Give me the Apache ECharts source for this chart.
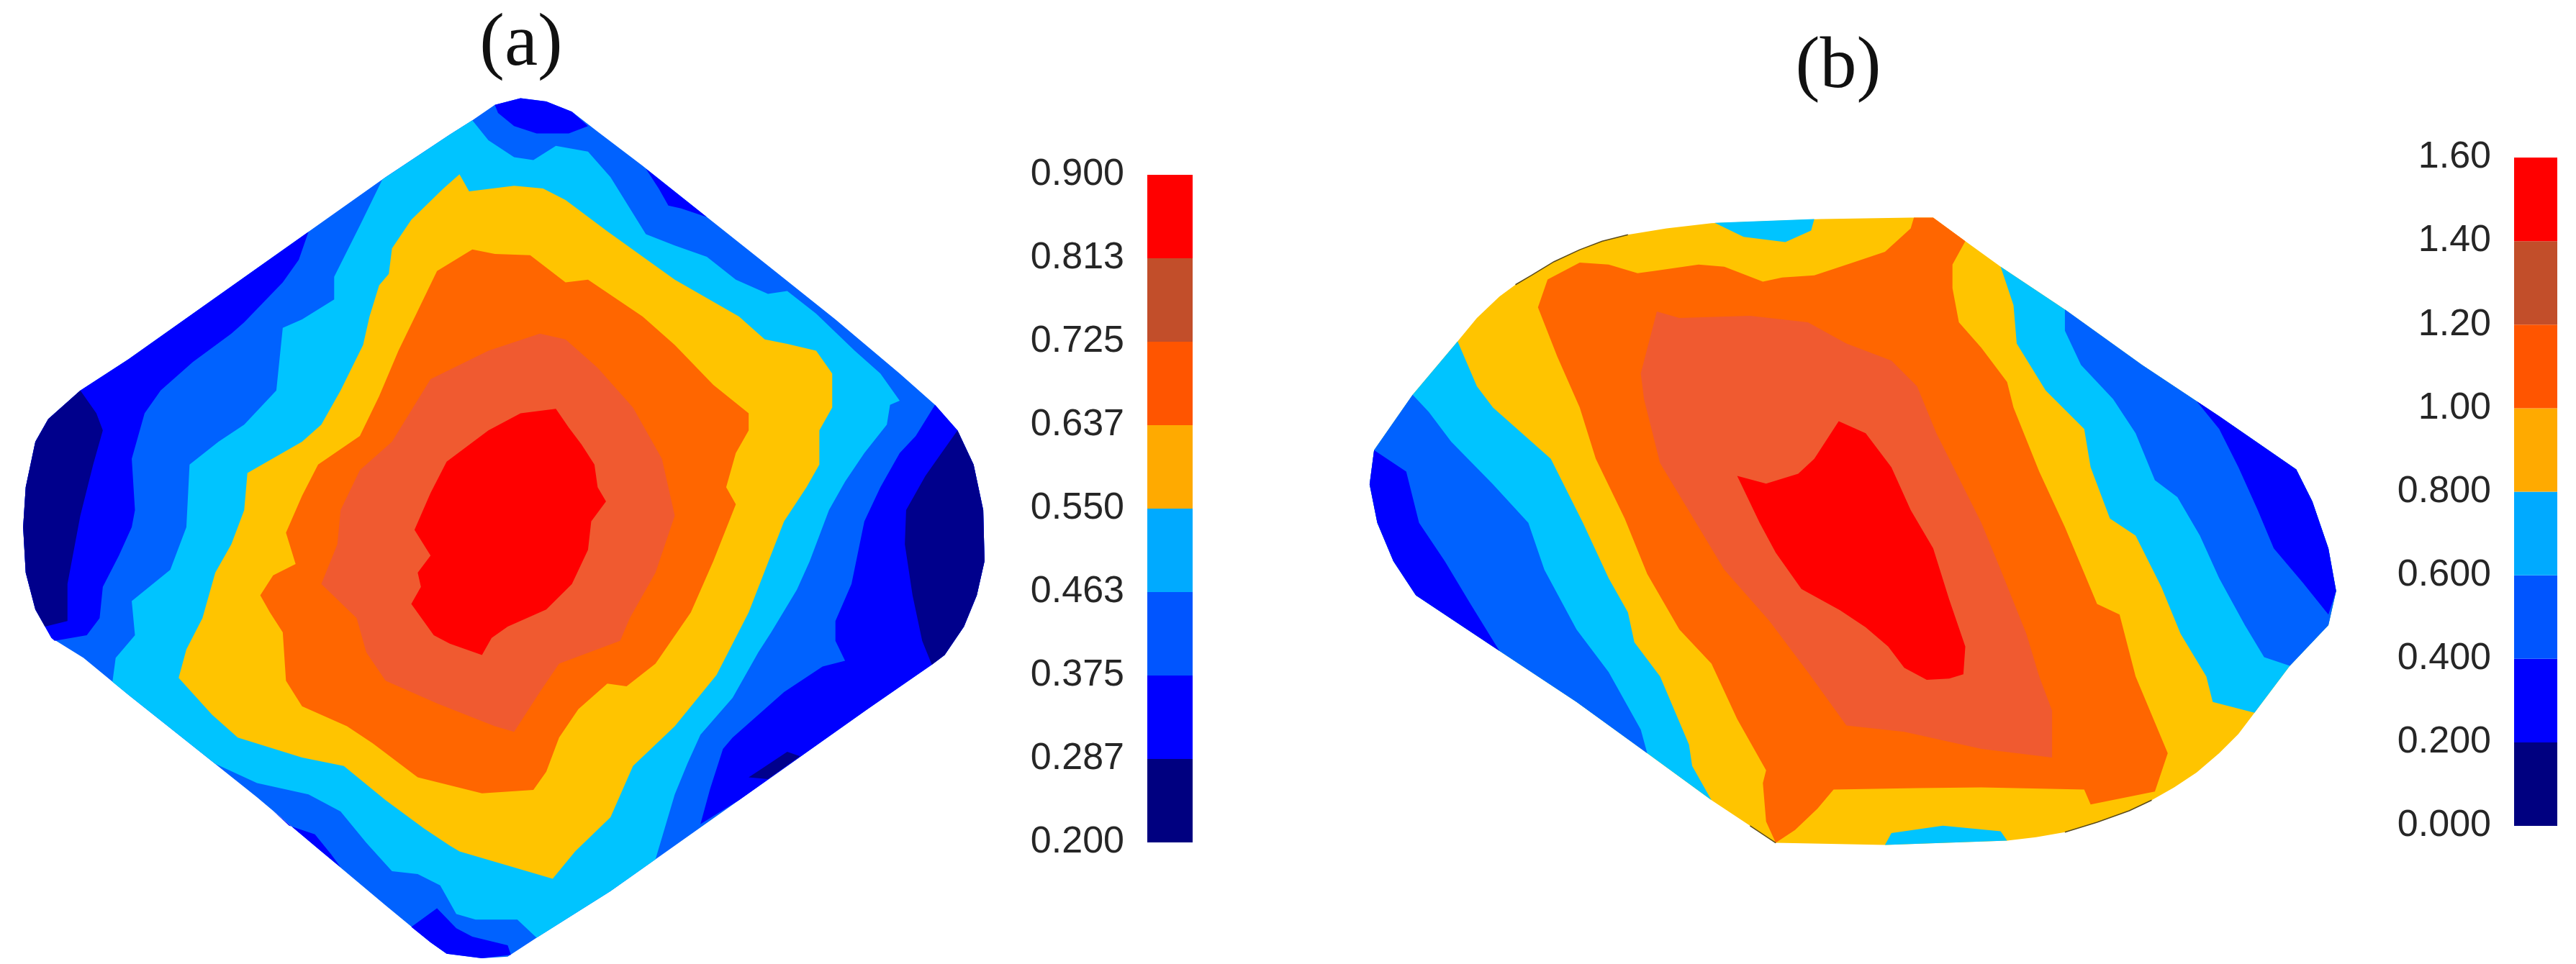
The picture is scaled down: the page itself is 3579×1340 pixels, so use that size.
<!DOCTYPE html>
<html><head><meta charset="utf-8">
<script src="https://cdn.jsdelivr.net/npm/echarts@6/dist/echarts.min.js"></script>
<style>html,body{margin:0;background:#fff}#c{width:3579px;height:1340px}</style></head>
<body><div id="c"></div>
<script>
// Colour-bar tick labels
const aTicks=['0.200','0.287','0.375','0.463','0.550','0.637','0.725','0.813','0.900'];
const bTicks=['0.000','0.200','0.400','0.600','0.800','1.00','1.20','1.40','1.60'];
const barColors=['#000080','#0000ff','#0055ff','#00aaff','#ffaa00','#ff5500','#c24e2a','#ff0000'];
// Contour fills
const NAVY='#00008c',BLUE='#0000ff',MID='#0062ff',CYAN='#00c4ff',YEL='#ffc400',ORG='#ff6600',SAL='#f05a30',RED='#ff0000';

// Panel (a): contour regions, in map units
const aOutline=[[810,46],[850,52],[890,70],[930,105],[1000,165],[1100,255],[1200,345],[1300,435],[1400,530],[1455,585],[1490,630],[1515,690],[1530,770],[1532,860],[1520,920],[1500,975],[1470,1025],[1450,1042],[1350,1120],[1250,1200],[1150,1280],[1050,1360],[950,1440],[835,1522],[790,1555],[750,1558],[695,1550],[670,1530],[600,1465],[500,1370],[400,1275],[300,1185],[200,1095],[130,1030],[80,995],[55,945],[40,880],[36,800],[40,730],[55,650],[75,610],[125,560],[200,505],[300,425],[400,345],[500,265],[600,185],[700,110],[735,85],[770,58]];
const aBlueTop=[[770,58],[810,46],[850,52],[890,70],[915,95],[885,108],[835,108],[800,95],[775,72]];
const aBlueSliver=[[1005,170],[1100,255],[1060,240],[1040,235],[1025,205]];
const aBlueLeft=[[480,281],[465,330],[440,370],[380,440],[360,460],[300,510],[250,560],[225,600],[205,680],[210,770],[205,800],[185,850],[160,905],[155,960],[135,990],[85,1000],[80,995],[55,945],[40,880],[36,800],[40,730],[55,650],[75,610],[125,560],[200,505],[300,425],[400,345]];
const aNavyLeft=[[125,560],[150,600],[160,630],[145,690],[125,780],[105,900],[105,965],[70,975],[55,945],[40,880],[36,800],[40,730],[55,650],[75,610]];
const aBlueRight=[[1455,585],[1425,640],[1400,670],[1370,730],[1345,790],[1325,900],[1300,965],[1300,1000],[1315,1035],[1280,1045],[1220,1090],[1140,1170],[1125,1190],[1105,1260],[1090,1322],[1150,1280],[1250,1200],[1350,1120],[1450,1042],[1470,1025],[1500,975],[1520,920],[1532,860],[1530,770],[1515,690],[1490,630]];
const aNavyRight=[[1490,630],[1515,690],[1530,770],[1532,860],[1520,920],[1500,975],[1470,1025],[1450,1042],[1435,1000],[1420,920],[1408,830],[1410,770],[1440,710],[1465,670]];
const aNavySliver=[[1165,1240],[1185,1225],[1225,1195],[1245,1203],[1195,1243]];
const aBlueLow=[[425,1299],[450,1325],[490,1340],[515,1375],[530,1398],[500,1370]];
const aBlueBottom=[[640,1503],[680,1470],[710,1505],[735,1520],[790,1535],[795,1552],[750,1558],[695,1550],[670,1530]];
const aCyan=[[735,85],[760,120],[800,150],[830,155],[865,130],[915,140],[950,185],[1005,285],[1050,305],[1100,325],[1145,365],[1195,390],[1225,385],[1270,425],[1330,490],[1370,530],[1400,578],[1385,585],[1380,620],[1345,670],[1315,720],[1290,770],[1260,860],[1240,910],[1200,985],[1180,1020],[1140,1100],[1090,1165],[1070,1215],[1050,1270],[1020,1384],[950,1440],[835,1522],[805,1490],[740,1490],[710,1480],[685,1430],[650,1410],[610,1405],[570,1355],[530,1300],[480,1270],[400,1250],[335,1216],[300,1185],[200,1095],[175,1072],[180,1030],[210,990],[205,930],[265,875],[290,800],[295,690],[340,650],[380,620],[430,560],[440,450],[470,435],[520,400],[520,360],[560,270],[595,189],[700,110]];
const aYellow=[[715,180],[730,210],[800,200],[845,205],[880,225],[945,280],[1050,365],[1150,430],[1190,470],[1225,478],[1270,490],[1295,530],[1295,590],[1275,630],[1275,690],[1255,730],[1220,790],[1165,950],[1115,1060],[1050,1150],[985,1220],[950,1310],[895,1370],[860,1418],[715,1370],[700,1360],[660,1330],[600,1280],[535,1220],[470,1205],[370,1170],[330,1130],[278,1065],[290,1015],[315,960],[335,880],[360,830],[380,770],[385,705],[470,650],[500,620],[530,560],[565,480],[575,430],[590,375],[605,355],[610,310],[640,260],[690,205]];
const aOrange=[[735,312],[770,320],[825,322],[880,370],[915,365],[1000,430],[1050,480],[1110,550],[1165,600],[1165,630],[1145,670],[1130,730],[1145,760],[1110,860],[1075,950],[1020,1040],[975,1080],[945,1075],[900,1120],[870,1170],[850,1230],[830,1262],[750,1268],[650,1240],[580,1180],[540,1150],[470,1115],[445,1070],[440,985],[420,950],[405,920],[425,885],[460,865],[445,810],[470,745],[495,690],[560,640],[590,570],[620,490],[650,420],[680,350]];
const aSalmon=[[840,460],[880,470],[930,520],[985,590],[1030,680],[1050,780],[1020,880],[980,960],[965,1000],[870,1040],[840,1090],[800,1160],[770,1150],[680,1110],[600,1070],[570,1020],[555,960],[500,900],[525,830],[530,770],[560,700],[610,650],[670,540],[760,490]];
const aRed=[[810,600],[865,592],[885,625],[905,655],[925,690],[930,730],[943,755],[920,790],[915,840],[890,900],[850,945],[790,975],[765,995],[750,1025],[700,1005],[675,990],[640,935],[655,905],[650,880],[670,850],[645,805],[670,740],[695,685],[760,630]];

// Panel (b): contour regions, in map units
const bOutline=[[925,55],[975,110],[1030,170],[1130,270],[1250,400],[1370,520],[1490,645],[1515,720],[1540,830],[1552,930],[1540,1010],[1480,1105],[1425,1215],[1400,1265],[1370,1310],[1335,1355],[1300,1390],[1265,1420],[1230,1445],[1180,1472],[1130,1495],[1085,1507],[1040,1515],[850,1525],[680,1520],[640,1480],[580,1420],[480,1310],[370,1190],[250,1070],[120,940],[85,860],[60,770],[48,680],[55,600],[115,470],[185,345],[215,290],[250,240],[275,212],[300,190],[335,158],[375,130],[410,110],[450,95],[510,80],[580,68],[750,58],[890,55]];
const bCyanLeft=[[185,345],[215,450],[240,500],[330,620],[380,770],[420,900],[450,980],[460,1050],[500,1130],[545,1290],[550,1340],[580,1420],[480,1310],[370,1190],[250,1070],[120,940],[85,860],[60,770],[48,680],[55,600],[115,470]];
const bMidLeft=[[115,470],[140,510],[175,580],[240,680],[295,770],[320,880],[370,1020],[420,1120],[470,1255],[480,1310],[370,1190],[250,1070],[120,940],[85,860],[60,770],[48,680],[55,600]];
const bBlueLeft=[[55,600],[105,650],[125,770],[165,860],[205,960],[250,1070],[120,940],[85,860],[60,770],[48,680]];
const bCyanRight=[[1030,170],[1130,270],[1250,400],[1370,520],[1490,645],[1515,720],[1540,830],[1552,930],[1540,1010],[1480,1105],[1425,1215],[1360,1190],[1350,1130],[1310,1030],[1280,920],[1240,800],[1200,760],[1170,640],[1160,550],[1100,460],[1055,350],[1050,260]];
const bMidRight=[[1130,270],[1250,400],[1370,520],[1490,645],[1515,720],[1540,830],[1552,930],[1540,1010],[1480,1105],[1440,1085],[1410,1010],[1370,900],[1340,800],[1305,710],[1270,670],[1240,560],[1205,480],[1155,400],[1130,320]];
const bBlueRight=[[1335,485],[1370,520],[1490,645],[1515,720],[1540,830],[1552,930],[1540,985],[1500,910],[1455,830],[1430,740],[1400,640],[1370,550]];
const bCyanTop=[[585,67],[740,58],[735,85],[695,112],[630,100]];
const bCyanBottom=[[850,1525],[1040,1515],[1030,1493],[940,1480],[860,1497]];
const bOrange=[[375,160],[420,165],[465,185],[490,180],[560,165],[600,170],[660,205],[690,195],[740,190],[800,160],[850,135],[890,80],[895,55],[925,55],[975,110],[955,165],[955,220],[965,300],[1000,360],[1040,440],[1050,500],[1090,650],[1130,780],[1155,870],[1180,960],[1215,985],[1240,1130],[1290,1310],[1270,1400],[1170,1430],[1160,1395],[1000,1390],[900,1392],[770,1395],[745,1440],[710,1490],[680,1520],[665,1470],[660,1380],[665,1350],[620,1230],[580,1100],[530,1020],[480,890],[445,760],[400,620],[375,500],[340,380],[310,265],[325,200]];
const bSalmon=[[495,275],[530,290],[640,285],[730,300],[790,350],[860,390],[900,450],[930,560],[960,650],[1000,770],[1030,880],[1070,1030],[1090,1130],[1110,1210],[1110,1320],[1000,1300],[880,1260],[790,1245],[730,1120],[670,1000],[600,880],[540,730],[500,630],[475,480],[470,420]];
const bRed=[[778,532],[820,560],[860,640],[890,740],[925,830],[950,950],[975,1060],[972,1125],[950,1135],[915,1138],[880,1110],[855,1060],[820,1015],[780,975],[720,925],[680,840],[655,770],[620,660],[665,678],[715,655],[740,620]];
const bEdgeTop=[[275,212],[300,190],[335,158],[375,130],[410,110],[450,95]];
const bEdgeBottom=[[1130,1495],[1180,1472],[1230,1445],[1265,1420]];
const bEdgeCorner=[[640,1480],[680,1520]];

const layersA=[[aOutline,MID],[aBlueTop,BLUE],[aBlueSliver,BLUE],[aBlueLeft,BLUE],[aNavyLeft,NAVY],[aBlueRight,BLUE],[aNavyRight,NAVY],[aNavySliver,NAVY],[aBlueLow,BLUE],[aBlueBottom,BLUE],[aCyan,CYAN],[aYellow,YEL],[aOrange,ORG],[aSalmon,SAL],[aRed,RED]];
const layersB=[[bOutline,YEL],[bCyanLeft,CYAN],[bMidLeft,MID],[bBlueLeft,BLUE],[bCyanRight,CYAN],[bMidRight,MID],[bBlueRight,BLUE],[bCyanTop,CYAN],[bCyanBottom,CYAN],[bOrange,ORG],[bSalmon,SAL],[bRed,RED]];

function mapSeries(layers,idx){
  return {type:'custom',xAxisIndex:idx,yAxisIndex:idx,silent:true,clip:false,animation:false,
    data:layers.map((l,i)=>[l[0][0][0],l[0][0][1],i]),
    encode:{x:0,y:1},
    renderItem(p,api){const l=layers[p.dataIndex];
      return {type:'polygon',shape:{points:l[0].map(q=>api.coord(q))},style:{fill:l[1]}};}};
}
function barSeries(idx){
  return {type:'custom',xAxisIndex:idx,yAxisIndex:idx,silent:true,clip:false,animation:false,
    data:barColors.map((c,i)=>[0,i]),encode:{x:0,y:1},
    renderItem(p,api){const i=p.dataIndex,a=api.coord([0,i+1]),b=api.coord([1,i]);
      return {type:'rect',shape:{x:a[0],y:a[1],width:b[0]-a[0],height:b[1]-a[1]},style:{fill:barColors[i]}};}};
}
function edge(pts,idx){return {type:'line',xAxisIndex:idx,yAxisIndex:idx,data:pts,symbol:'none',silent:true,animation:false,lineStyle:{color:'#5a4a1a',width:1.5}};}
const hiddenAxis=o=>Object.assign({type:'value',show:false,scale:false},o);
const tickAxis=t=>({type:'value',min:0,max:8,interval:1,axisLine:{show:false},axisTick:{show:false},splitLine:{show:false},
  axisLabel:{show:true,margin:32,color:'#262626',fontFamily:'Liberation Sans',fontSize:52,formatter:v=>t[v]}});

const chart=echarts.init(document.getElementById('c'),null,{renderer:'canvas'});
chart.setOption({
  backgroundColor:'#fff',animation:false,
  title:[
    {text:'(a)',left:719,top:6,textAlign:'center',textStyle:{fontFamily:'Liberation Serif',fontWeight:'normal',fontSize:104,color:'#111'}},
    {text:'(b)',left:2549,top:38,textAlign:'center',textStyle:{fontFamily:'Liberation Serif',fontWeight:'normal',fontSize:102,color:'#111'}}
  ],
  grid:[
    {left:0,top:100,width:1400,height:1240},
    {left:1860,top:270,width:1400,height:930},
    {left:1594,top:243,width:63,height:928},
    {left:3493,top:219,width:60,height:929}
  ],
  xAxis:[hiddenAxis({gridIndex:0,min:0,max:1568}),hiddenAxis({gridIndex:1,min:0,max:1568}),
         hiddenAxis({gridIndex:2,min:0,max:1}),hiddenAxis({gridIndex:3,min:0,max:1})],
  yAxis:[hiddenAxis({gridIndex:0,min:0,max:1568,inverse:true}),hiddenAxis({gridIndex:1,min:0,max:1568,inverse:true}),
         Object.assign(tickAxis(aTicks),{gridIndex:2}),Object.assign(tickAxis(bTicks),{gridIndex:3})],
  series:[mapSeries(layersA,0),mapSeries(layersB,1),edge(bEdgeTop,1),edge(bEdgeBottom,1),edge(bEdgeCorner,1),barSeries(2),barSeries(3)]
});
</script></body></html>
